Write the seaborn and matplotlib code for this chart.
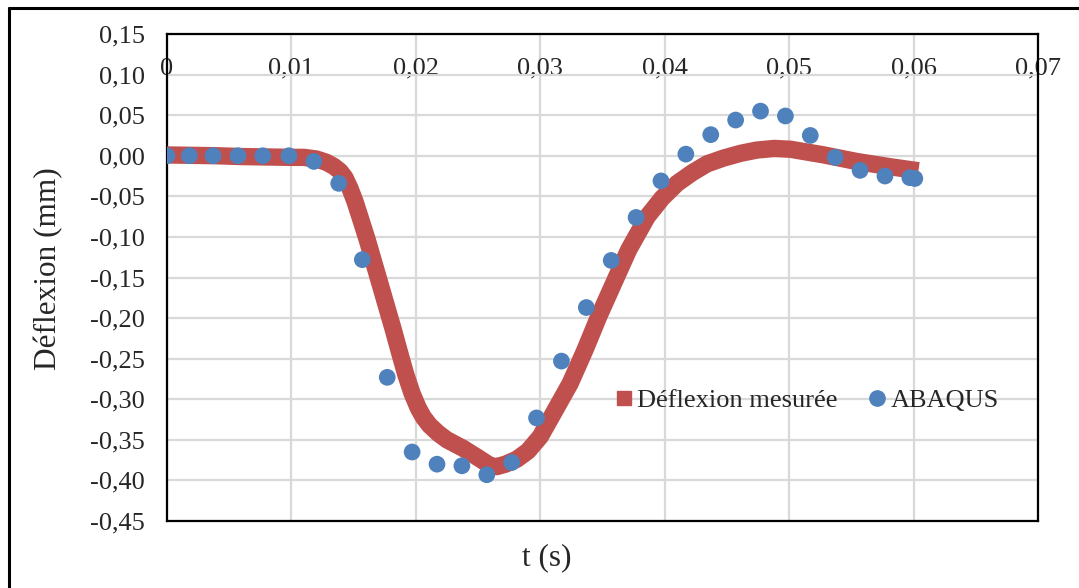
import numpy as np
import pandas as pd
import matplotlib
matplotlib.use('Agg')
import matplotlib.pyplot as plt
import seaborn as sns
from matplotlib.lines import Line2D

# Déflexion mesurée (courbe épaisse)
t_mesure = [0.0, 0.002, 0.004, 0.006, 0.008, 0.010, 0.011, 0.0120, 0.0128, 0.0134,
            0.0139, 0.0143, 0.0147, 0.0151, 0.0155, 0.0161, 0.0168, 0.0175, 0.0182,
            0.0187, 0.0192, 0.0197, 0.0202, 0.0206, 0.0211, 0.0218, 0.0225, 0.0238,
            0.0250, 0.0260, 0.0265, 0.0272, 0.0281, 0.0290, 0.0300, 0.0309, 0.0324,
            0.0336, 0.0347, 0.0359, 0.0371, 0.0386, 0.0398, 0.0410, 0.0422, 0.0434,
            0.0447, 0.0461, 0.0474, 0.0488, 0.0501, 0.0528, 0.0554, 0.0581, 0.0597]
d_mesure = [0.001, 0.0005, 0.0, -0.001, -0.0015, -0.002, -0.002, -0.004, -0.008, -0.013,
            -0.019, -0.027, -0.040, -0.056, -0.075, -0.104, -0.141, -0.178, -0.215,
            -0.243, -0.270, -0.293, -0.311, -0.322, -0.332, -0.342, -0.350, -0.3605,
            -0.372, -0.382, -0.383, -0.380, -0.374, -0.364, -0.346, -0.3215, -0.2805,
            -0.239, -0.198, -0.157, -0.116, -0.075, -0.052, -0.034, -0.021, -0.010,
            -0.003, 0.003, 0.007, 0.009, 0.008, 0.001, -0.007, -0.0135, -0.017]

# ABAQUS
t_abaqus = [0.0, 0.0018, 0.0037, 0.0057, 0.0077, 0.0098, 0.0118, 0.0138, 0.0157, 0.0177,
            0.0197, 0.0217, 0.0237, 0.0257, 0.0277, 0.0297, 0.0317, 0.0337, 0.0357, 0.0377,
            0.0397, 0.0417, 0.0437, 0.0457, 0.0477, 0.0497, 0.0517, 0.0537, 0.0557, 0.0577,
            0.0597, 0.0601]
d_abaqus = [0.0, 0.0, 0.0, 0.0, 0.0, 0.0, -0.007, -0.034, -0.128, -0.273,
            -0.365, -0.380, -0.382, -0.393, -0.378, -0.323, -0.253, -0.187, -0.129, -0.076,
            -0.031, 0.002, 0.026, 0.044, 0.055, 0.049, 0.025, -0.002, -0.018, -0.025,
            -0.027, -0.028]

x_ticks = [0.0, 0.01, 0.02, 0.03, 0.04, 0.05, 0.06, 0.07]
x_labels = ['0', '0,01', '0,02', '0,03', '0,04', '0,05', '0,06', '0,07']
y_ticks = [0.15, 0.10, 0.05, 0.0, -0.05, -0.10, -0.15, -0.20, -0.25, -0.30, -0.35, -0.40, -0.45]
y_labels = ['0,15', '0,10', '0,05', '0,00', '-0,05', '-0,10', '-0,15', '-0,20', '-0,25',
            '-0,30', '-0,35', '-0,40', '-0,45']

rouge = '#C0504D'
bleu = '#4F81BD'

sns.set_style('white')
plt.rcParams['font.family'] = ['Liberation Serif', 'DejaVu Serif']

W, H = 1079, 588
fig = plt.figure(figsize=(W / 100, H / 100), dpi=100)
ax = fig.add_axes([167 / W, 1 - 521 / H, (1038 - 167) / W, (521 - 34) / H])

df_m = pd.DataFrame({'t': t_mesure, 'd': d_mesure})
df_a = pd.DataFrame({'t': t_abaqus, 'd': d_abaqus})

sns.lineplot(data=df_m, x='t', y='d', ax=ax, color=rouge, lw=12.5, sort=False,
             estimator=None, zorder=3)
ax.lines[-1].set_solid_capstyle('projecting')
ax.lines[-1].set_solid_joinstyle('round')
sns.scatterplot(data=df_a, x='t', y='d', ax=ax, color=bleu, s=145, edgecolor='none',
                zorder=4)

ax.set_xlim(0, 0.07)
ax.set_ylim(-0.45, 0.15)
ax.set_xticks(x_ticks)
ax.set_xticklabels(x_labels)
ax.set_yticks(y_ticks)
ax.set_yticklabels(y_labels)
ax.xaxis.tick_top()
ax.tick_params(axis='x', length=0, pad=-33, labelsize=19)
ax.tick_params(axis='y', length=0, pad=16, labelsize=19)
ax.grid(True, color='#d9d9d9', lw=1.6)
ax.set_axisbelow(True)
for sp in ax.spines.values():
    sp.set_visible(True)
    sp.set_color('black')
    sp.set_linewidth(1.6)
ax.set_xlabel('')
ax.set_ylabel('')

fig.text(547 / W, 1 - 558 / H, 't (s)', fontsize=22.5, ha='center', va='center')
fig.text(49 / W, 1 - 269 / H, 'Déflexion (mm)', fontsize=22.5, ha='center', va='center',
         rotation=90)

handles = [Line2D([], [], marker='s', ls='none', color=rouge, markersize=10),
           Line2D([], [], marker='o', ls='none', color=bleu, markersize=11)]
ax.legend(handles, ['Déflexion mesurée', 'ABAQUS'], ncol=2, frameon=False,
          loc='center', bbox_to_anchor=(0.735, 0.248), fontsize=19,
          handlelength=0.6, handletextpad=0.2, columnspacing=1.2)

# cadre extérieur (coupé à droite et en bas)
fig.add_artist(Line2D([8.5 / W, 8.5 / W], [0, 1 - 7.5 / H], color='black', lw=2.2))
fig.add_artist(Line2D([8.5 / W, 1], [1 - 7.5 / H, 1 - 7.5 / H], color='black', lw=2.2))

fig.savefig('out.png', dpi=100)
